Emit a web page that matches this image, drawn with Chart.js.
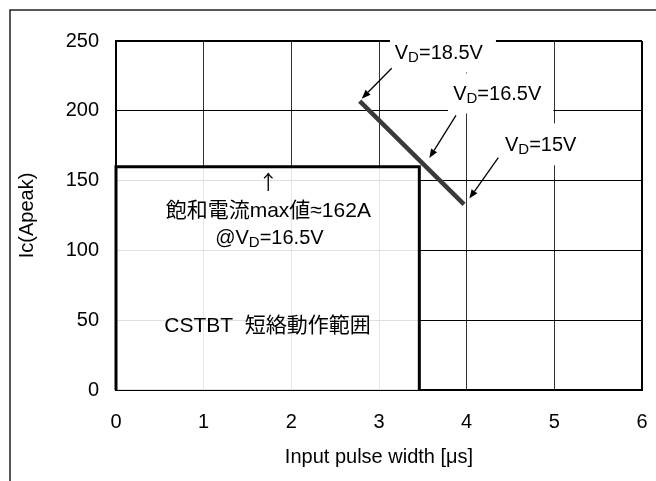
<!DOCTYPE html>
<html><head><meta charset="utf-8">
<script src="https://cdn.jsdelivr.net/npm/chart.js@4/dist/chart.umd.min.js"></script>
<style>html,body{margin:0;padding:0;background:#fff;overflow:hidden}canvas{display:block}</style>
</head><body>
<canvas id="c" width="656" height="481"></canvas>
<script>
// ---- data ----
const xTicks = [0, 1, 2, 3, 4, 5, 6];
const yTicks = [0, 50, 100, 150, 200, 250];
const lineX = [2.78, 3.97];
const lineY = [207, 133];
const boxX = [0, 0, 3.46, 3.46];
const boxY = [0, 160, 160, 0];
const xTitle = 'Input pulse width [μs]';
const yTitle = 'Ic(Apeak)';
const vdValues = ['18.5V', '16.5V', '15V'];
const satText = '飽和電流max値≈162A';
const satCondition = '16.5V';
const areaText = 'CSTBT  短絡動作範囲';
const upArrow = '↑';

// ---- annotation placement (data units) ----
const FONT = '"Liberation Sans", Arial, "Noto Sans CJK JP", sans-serif';
const vdNotes = [
  {bg: [3.125, 4.334, 259, 227.5], tx: 3.18, ty: 237.3, arrow: [3.145, 230.5, 2.803, 208.7]},
  {bg: [3.787, 4.989, 226.8, 198.1], tx: 3.846, ty: 207.9, arrow: [3.878, 196.7, 3.574, 166.2]},
  {bg: [4.27, 5.31, 191, 161], tx: 4.437, ty: 171.2, arrow: [4.361, 166.5, 4.03, 137.1]}
];
const boxNotes = {arrow: [1.737, 148.4], sat: [1.737, 124], cond: [1.75, 104.9], area: [1.728, 41.3]};

function zip(xs, ys) { return xs.map((x, i) => ({x: x, y: ys[i]})); }

function drawVD(ctx, x, y, prefix, value, measureOnly) {
  let cx = x;
  ctx.textBaseline = 'alphabetic'; ctx.textAlign = 'left';
  const parts = [[prefix + 'V', 20, 0], ['D', 15, 3], ['=' + value, 20, 0]];
  for (const [t, s, dy] of parts) {
    if (!t) continue;
    ctx.font = s + 'px ' + FONT;
    if (!measureOnly) ctx.fillText(t, cx, y + dy);
    cx += ctx.measureText(t).width;
  }
  return cx - x;
}

function arrowLine(ctx, x1, y1, x2, y2) {
  ctx.save();
  ctx.strokeStyle = '#000'; ctx.fillStyle = '#000'; ctx.lineWidth = 1.3;
  const a = Math.atan2(y2 - y1, x2 - x1);
  const L = 9, W = 3.5;
  const bx = x2 - L * Math.cos(a), by = y2 - L * Math.sin(a);
  ctx.beginPath(); ctx.moveTo(x1, y1); ctx.lineTo(bx, by); ctx.stroke();
  ctx.beginPath();
  ctx.moveTo(x2, y2);
  ctx.lineTo(bx + W * Math.sin(a), by - W * Math.cos(a));
  ctx.lineTo(bx - W * Math.sin(a), by + W * Math.cos(a));
  ctx.closePath(); ctx.fill();
  ctx.restore();
}

const annot = {
  id: 'annot',
  afterDraw(chart) {
    const ctx = chart.ctx, xs = chart.scales.x, ys = chart.scales.y;
    const px = v => xs.getPixelForValue(v), py = v => ys.getPixelForValue(v);
    ctx.save();
    // outer frame
    ctx.strokeStyle = '#222'; ctx.lineWidth = 1.5;
    ctx.beginPath(); ctx.moveTo(10, 481); ctx.lineTo(10, 10); ctx.lineTo(656, 10); ctx.stroke();
    // label backgrounds
    ctx.fillStyle = '#fff';
    vdNotes.forEach(n => {
      const x0 = px(n.bg[0]), x1 = px(n.bg[1]), y0 = py(n.bg[2]), y1 = py(n.bg[3]);
      ctx.fillRect(x0, y0, x1 - x0, y1 - y0);
    });
    // labels and arrows
    ctx.fillStyle = '#000';
    vdNotes.forEach((n, i) => {
      drawVD(ctx, px(n.tx), py(n.ty), '', vdValues[i]);
      arrowLine(ctx, px(n.arrow[0]), py(n.arrow[1]), px(n.arrow[2]), py(n.arrow[3]));
    });
    // texts inside box
    ctx.fillStyle = '#000';
    ctx.font = '20px "Noto Sans CJK JP", ' + FONT;
    ctx.textAlign = 'center'; ctx.textBaseline = 'middle';
    ctx.fillText(upArrow, px(boxNotes.arrow[0]), py(boxNotes.arrow[1]));
    ctx.font = '21px ' + FONT;
    ctx.textBaseline = 'alphabetic';
    ctx.fillText(satText, px(boxNotes.sat[0]), py(boxNotes.sat[1]));
    ctx.fillText(areaText, px(boxNotes.area[0]), py(boxNotes.area[1]));
    const w = drawVD(ctx, 0, 0, '@', satCondition, true);
    drawVD(ctx, px(boxNotes.cond[0]) - w / 2, py(boxNotes.cond[1]), '@', satCondition);
    ctx.restore();
  }
};

const edgeW = (c, lo, hi) => (c.tick.value === lo || c.tick.value === hi) ? 2 : 1;

new Chart(document.getElementById('c'), {
  type: 'line',
  data: {
    datasets: [
      {data: zip(boxX, boxY), borderColor: '#000', borderWidth: 3, fill: 'origin',
       backgroundColor: 'rgba(255,255,255,0.88)', pointRadius: 0, tension: 0,
       borderJoinStyle: 'miter', clip: false},
      {data: zip(lineX, lineY), borderColor: '#3a3a3a', borderWidth: 4.5, pointRadius: 0,
       fill: false, tension: 0, clip: false}
    ]
  },
  options: {
    responsive: false, animation: false, devicePixelRatio: 1,
    layout: {padding: {left: 0, top: 41, right: 14, bottom: 0}},
    plugins: {legend: {display: false}, tooltip: {enabled: false}},
    scales: {
      x: {
        type: 'linear', min: 0, max: 6,
        afterBuildTicks: s => { s.ticks = xTicks.map(v => ({value: v})); },
        ticks: {color: '#000', font: {size: 20, family: FONT}, padding: 20, maxRotation: 0},
        grid: {drawTicks: false, color: c => (c.tick.value === 0 || c.tick.value === 6) ? '#000' : '#333',
               lineWidth: c => edgeW(c, 0, 6)},
        border: {display: true, color: '#000', width: 2},
        title: {display: true, text: xTitle, color: '#000', font: {size: 20, family: FONT}, padding: {top: 0, bottom: 12}},
        afterFit: s => { s.height = 91; s.paddingLeft = 0; s.paddingRight = 0; }
      },
      y: {
        type: 'linear', min: 0, max: 250,
        afterBuildTicks: s => { s.ticks = yTicks.map(v => ({value: v})); },
        ticks: {color: '#000', font: {size: 20, family: FONT}, padding: 17},
        grid: {drawTicks: false, color: '#000', lineWidth: c => edgeW(c, 0, 250)},
        border: {display: true, color: '#000', width: 2},
        title: {display: true, text: yTitle, color: '#000', font: {size: 20, family: FONT}, padding: {top: 15, bottom: 0}},
        afterFit: s => { s.width = 116; s.paddingTop = 0; s.paddingBottom = 0; }
      }
    }
  },
  plugins: [annot]
});
</script>
</body></html>
